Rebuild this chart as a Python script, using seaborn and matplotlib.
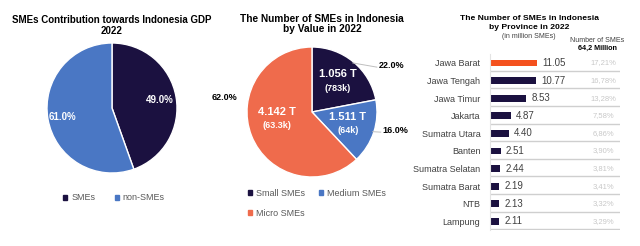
import matplotlib
matplotlib.use("Agg")
import matplotlib.pyplot as plt
import seaborn as sns
import numpy as np
import pandas as pd
from matplotlib.patches import Patch

# ---------------- data ----------------
gdp_labels = ["SMEs", "non-SMEs"]
gdp_values = [49.0, 61.0]

value_labels = ["Small SMEs", "Medium SMEs", "Micro SMEs"]
value_pct = [22.0, 16.0, 62.0]
value_trillion = ["1.056 T", "1.511 T", "4.142 T"]
value_count = ["(783k)", "(64k)", "(63.3k)"]

provinces = ["Jawa Barat", "Jawa Tengah", "Jawa Timur", "Jakarta", "Sumatra Utara",
             "Banten", "Sumatra Selatan", "Sumatra Barat", "NTB", "Lampung"]
sme_counts = [11.05, 10.77, 8.53, 4.87, 4.40, 2.51, 2.44, 2.19, 2.13, 2.11]
sme_shares = ["17,21%", "16,78%", "13,28%", "7,58%", "6,86%", "3,90%", "3,81%", "3,41%", "3,32%", "3,29%"]

# ---------------- style ----------------
sns.set_theme(style="white")
plt.rcParams['font.family'] = ['Liberation Sans', 'DejaVu Sans']

W, H = 640, 246
fig = plt.figure(figsize=(6.4, 2.46), dpi=100)
fig.patch.set_facecolor("white")

NAVY = "#1b1140"
BLUE = "#4a77c4"
ORANGE = "#ef6b4c"
HIL = "#f4511e"
GRAY = "#404040"


def box(cx, cy, r):
    return [(cx - r) / W, (H - cy - r) / H, 2 * r / W, 2 * r / H]


def fx(x):
    return x / W


def fy(y):
    return 1 - y / H


# ---------------- pie 1 ----------------
ax1 = fig.add_axes(box(112, 108, 65))
w1, _ = ax1.pie(gdp_values, colors=[NAVY, BLUE], startangle=90, counterclock=False,
                wedgeprops=dict(edgecolor="white", linewidth=1))
ax1.set_xlim(-1, 1)
ax1.set_ylim(-1, 1)
for w, v, r in zip(w1, gdp_values, [0.74, 0.78]):
    a = np.deg2rad((w.theta1 + w.theta2) / 2)
    ax1.text(r * np.cos(a), r * np.sin(a), f"{v:.1f}%", color="white", fontsize=7,
             fontweight="bold", ha="center", va="center")
fig.text(fx(112), fy(25.5), "SMEs Contribution towards Indonesia GDP\n2022", ha="center",
         va="center", fontsize=7, fontweight="bold", color="black", linespacing=1.1)
fig.legend(handles=[Patch(color=NAVY), Patch(color=BLUE)], labels=gdp_labels,
           loc="center", bbox_to_anchor=(fx(114), fy(198)), ncol=2, frameon=False,
           fontsize=6.5, handlelength=0.45, handleheight=0.45, handletextpad=0.4,
           columnspacing=2.2, labelcolor="#595959")

# ---------------- pie 2 ----------------
ax2 = fig.add_axes(box(312, 112, 65))
w2, _ = ax2.pie(value_pct, colors=[NAVY, BLUE, ORANGE], startangle=90, counterclock=False,
                wedgeprops=dict(edgecolor="white", linewidth=1))
ax2.set_xlim(-1, 1)
ax2.set_ylim(-1, 1)
inner_r = [0.62, 0.58, 0.58]
outer_pos = [(1.22, 0.72), (1.28, -0.28), (-1.34, 0.23)]
for i, w in enumerate(w2):
    a = np.deg2rad((w.theta1 + w.theta2) / 2)
    r = inner_r[i]
    cx, cy = r * np.cos(a), r * np.sin(a)
    if i == 2:
        cy += 0.12
    ax2.text(cx, cy + 0.1, value_trillion[i], color="white", fontsize=8, fontweight="bold",
             ha="center", va="center")
    ax2.text(cx, cy - 0.11, value_count[i], color="white", fontsize=6.5, fontweight="bold",
             ha="center", va="center")
    ox, oy = outer_pos[i]
    ax2.text(ox, oy, f"{value_pct[i]:.1f}%", color="black", fontsize=6.5, fontweight="bold",
             ha="center", va="center")
    if i < 2:
        ex, ey = np.cos(a) * 0.98, np.sin(a) * 0.98
        ax2.plot([ex, ox - 0.22], [ey, oy - 0.03], color="#bfbfbf", lw=0.7, clip_on=False)
fig.text(fx(322), fy(24), "The Number of SMEs in Indonesia\nby Value in 2022", ha="center",
         va="center", fontsize=7.3, fontweight="bold", color="black", linespacing=1.1)
fig.legend(handles=[Patch(color=NAVY), Patch(color=ORANGE), Patch(color=BLUE)],
           labels=[value_labels[0], value_labels[2], value_labels[1]],
           loc="upper left", bbox_to_anchor=(fx(240), fy(181)), ncol=2, frameon=False,
           fontsize=6.5, handlelength=0.45, handleheight=0.45, handletextpad=0.4,
           columnspacing=1.6, labelspacing=1.2, labelcolor="#595959")

# ---------------- bar chart ----------------
row_h = 17.6
top = 63 - row_h / 2
n = len(provinces)
ax3 = fig.add_axes([fx(490), fy(top + n * row_h), fx(130), n * row_h / H])
df = pd.DataFrame({"province": provinces, "count": sme_counts})
pal = {p: (HIL if i == 0 else NAVY) for i, p in enumerate(provinces)}
sns.barplot(data=df, x="count", y="province", hue="province", palette=pal, legend=False,
            width=0.38, ax=ax3, saturation=1, order=provinces, linewidth=0)
ax3.set_xlim(0, 130 / 4.27)
ax3.set_ylim(n - 0.5, -0.5)
ax3.set_xlabel("")
ax3.set_ylabel("")
ax3.set_xticks([])
ax3.tick_params(axis="y", length=0, pad=7, labelsize=6.5, labelcolor=GRAY)
for s in ["top", "right", "bottom"]:
    ax3.spines[s].set_visible(False)
ax3.spines["left"].set_color("#e3e3e3")
ax3.spines["left"].set_linewidth(0.8)
for i, (v, sh) in enumerate(zip(sme_counts, sme_shares)):
    ax3.text(v + 1.2, i, f"{v:.2f}", va="center", ha="left", fontsize=7, color=GRAY)
    ax3.text(0.87, i, sh, transform=ax3.get_yaxis_transform(), va="center", ha="center",
             fontsize=5.5, color="#c8c8c8")
    ax3.axhline(i + 0.44, color="#cfcfcf", lw=1.0, xmin=0, xmax=1)
fig.text(fx(529), fy(18), "The Number of SMEs in Indonesia", ha="center", va="center",
         fontsize=6.1, fontweight="bold", color="black")
fig.text(fx(529), fy(27.5), "by Province in 2022", ha="center", va="center",
         fontsize=6.1, fontweight="bold", color="black")
fig.text(fx(529), fy(36.5), "(in million SMEs)", ha="center", va="center",
         fontsize=5, color=GRAY)
fig.text(fx(597), fy(40), "Number of SMEs", ha="center", va="center", fontsize=5, color=GRAY)
fig.text(fx(597), fy(48), "64,2 Million", ha="center", va="center", fontsize=5.2,
         fontweight="bold", color="black")

fig.savefig("out.png", dpi=100, facecolor="white")
